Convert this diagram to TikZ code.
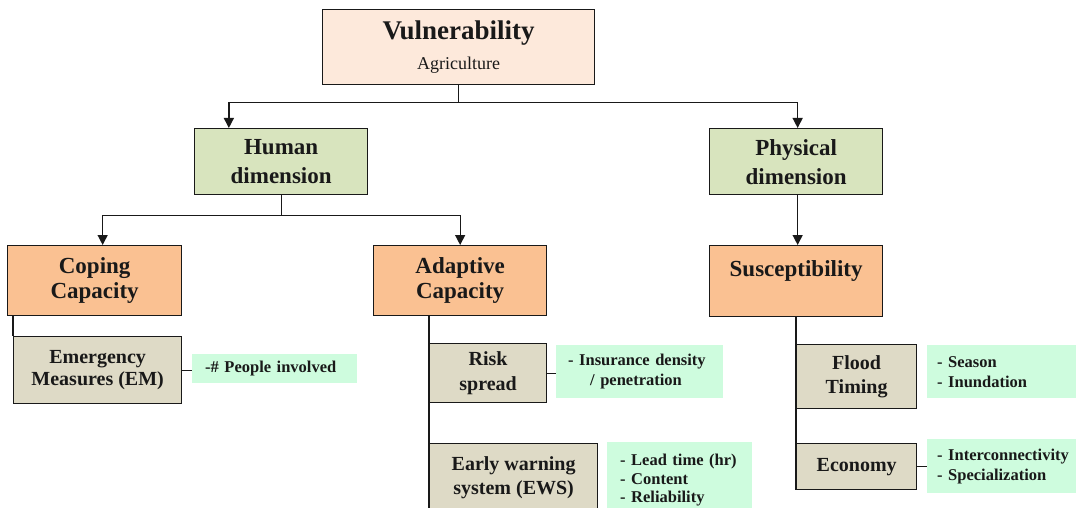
\documentclass[tikz,border=0pt]{standalone}
\usepackage{fontspec}
\setmainfont{Liberation Serif}
\usetikzlibrary{arrows.meta,calc}

\definecolor{peach}{RGB}{253,233,219}
\definecolor{leaf}{RGB}{216,228,190}
\definecolor{apricot}{RGB}{250,193,146}
\definecolor{khaki}{RGB}{222,218,198}
\definecolor{mint}{RGB}{206,252,222}
\definecolor{ink}{RGB}{25,25,25}

\tikzset{
  box/.style={draw=ink, line width=1.3pt, inner sep=0pt, anchor=north west,
              align=center, font=\bfseries, text=ink},
  bigtxt/.style={font=\bfseries\fontsize{23}{25}\selectfont},
  midtxt/.style={font=\bfseries\fontsize{20}{23}\selectfont},
  note/.style={fill=mint, inner ysep=0pt, inner xsep=#1, anchor=north west,
               align=left, text=ink, font=\bfseries\fontsize{16.5}{20}\selectfont},
  link/.style={draw=ink, line width=1.3pt},
  arr/.style={link, -{Triangle[length=10pt,width=10pt]}},
}

\begin{document}
\begin{tikzpicture}[x=1pt, y=-1pt]
\clip (0,0) rectangle (1076,508);
\fill[white] (0,0) rectangle (1076,508);

% top level
\node[box, fill=peach, minimum width=272pt, minimum height=75pt,
      font=\bfseries\fontsize{27}{30}\selectfont] (vul) at (322,9)
  {Vulnerability\\{\mdseries\fontsize{18}{30}\selectfont Agriculture}};

% dimensions
\node[box, fill=leaf, minimum width=173pt, minimum height=66pt,
      font=\bfseries\fontsize{23}{29}\selectfont] (hum) at (194,128) {Human\\dimension};
\node[box, fill=leaf, minimum width=173pt, minimum height=66pt,
      font=\bfseries\fontsize{23}{29}\selectfont] (phy) at (709,128) {Physical\\dimension};

% components
\node[box, bigtxt, fill=apricot, minimum width=174pt, minimum height=70pt] (cop) at (7,245) {Coping\\Capacity};
\node[box, bigtxt, fill=apricot, minimum width=173pt, minimum height=70pt] (ada) at (373,245) {Adaptive\\Capacity};
\node[box, bigtxt, fill=apricot, minimum width=173pt, minimum height=71pt] (sus) at (709,245) {Susceptibility\\\mbox{}};

% indicators
\node[box, fill=khaki, minimum width=168pt, minimum height=67pt,
      font=\bfseries\fontsize{20}{22}\selectfont] (em) at (13,336) {Emergency\\Measures (EM)};
\node[box, fill=khaki, minimum width=117pt, minimum height=59pt,
      font=\bfseries\fontsize{20}{25}\selectfont] (risk) at (429,343) {Risk\\spread};
\node[box, fill=khaki, minimum width=168pt, minimum height=68pt,
      font=\bfseries\fontsize{20}{24}\selectfont] (ews) at (429,443) {Early warning\\system (EWS)};
\node[box, fill=khaki, minimum width=120pt, minimum height=64pt,
      font=\bfseries\fontsize{20}{24}\selectfont] (flood) at (796,344) {Flood\\Timing};
\node[box, midtxt, fill=khaki, minimum width=120pt, minimum height=46pt] (eco) at (796,443) {Economy};

% measures
\node[note=13pt, text width=139pt, minimum height=29pt] (ppl) at (192,354) {-\# People involved};
\node[note=12pt, text width=143pt, minimum height=53pt] (ins) at (556,345)
  {- Insurance density\\\hspace*{22pt}/ penetration};
\node[note=13pt, text width=119pt, minimum height=76pt,
      font=\bfseries\fontsize{16.5}{18.5}\selectfont] (lead) at (607,442)
  {- Lead time (hr)\\- Content\\- Reliability};
\node[note=10pt, text width=140pt, minimum height=53pt] (sea) at (927,345) {- Season\\- Inundation};
\node[note=10pt, text width=140pt, minimum height=54pt] (int) at (927,439) {- Interconnectivity\\- Specialization};

% hierarchy arrows
\coordinate (vbar) at ($(vul.south)+(0,17)$);
\coordinate (hbar) at ($(hum.south)+(0,20)$);
\coordinate (pdrop) at ($(phy.south)+(1.5,0)$);
\draw[arr] (vul.south) -- (vbar) -| ($(hum.north west)!0.2!(hum.north east)$);
\draw[arr] (vbar) -| ($(phy.north)+(1.5,0)$);
\draw[arr] (hum.south) -- (hbar) -| ($(cop.north)+(8,0)$);
\draw[arr] (hbar) -| (ada.north);
\draw[arr] (pdrop) -- (pdrop |- sus.north);

% branch lines
\draw[link] (em.north west |- cop.south) -- (em.north west);
\draw[link] (risk.west |- ada.south) -- (ews.south west);
\draw[link] (flood.west |- sus.south) -- (eco.south west);

% indicator-to-measure ticks
\draw[link] (em.east) -- (em.east -| ppl.west);
\draw[link] (risk.east) -- (risk.east -| ins.west);
\draw[link] ($(ews.north east)+(0,24)$) -- ($(ews.north east)+(0,24)$ -| lead.west);
\draw[link] ($(flood.east)+(0,-3)$) -- ($(flood.east)+(0,-3)$ -| sea.west);
\draw[link] (eco.east) -- (eco.east -| int.west);
\end{tikzpicture}
\end{document}
